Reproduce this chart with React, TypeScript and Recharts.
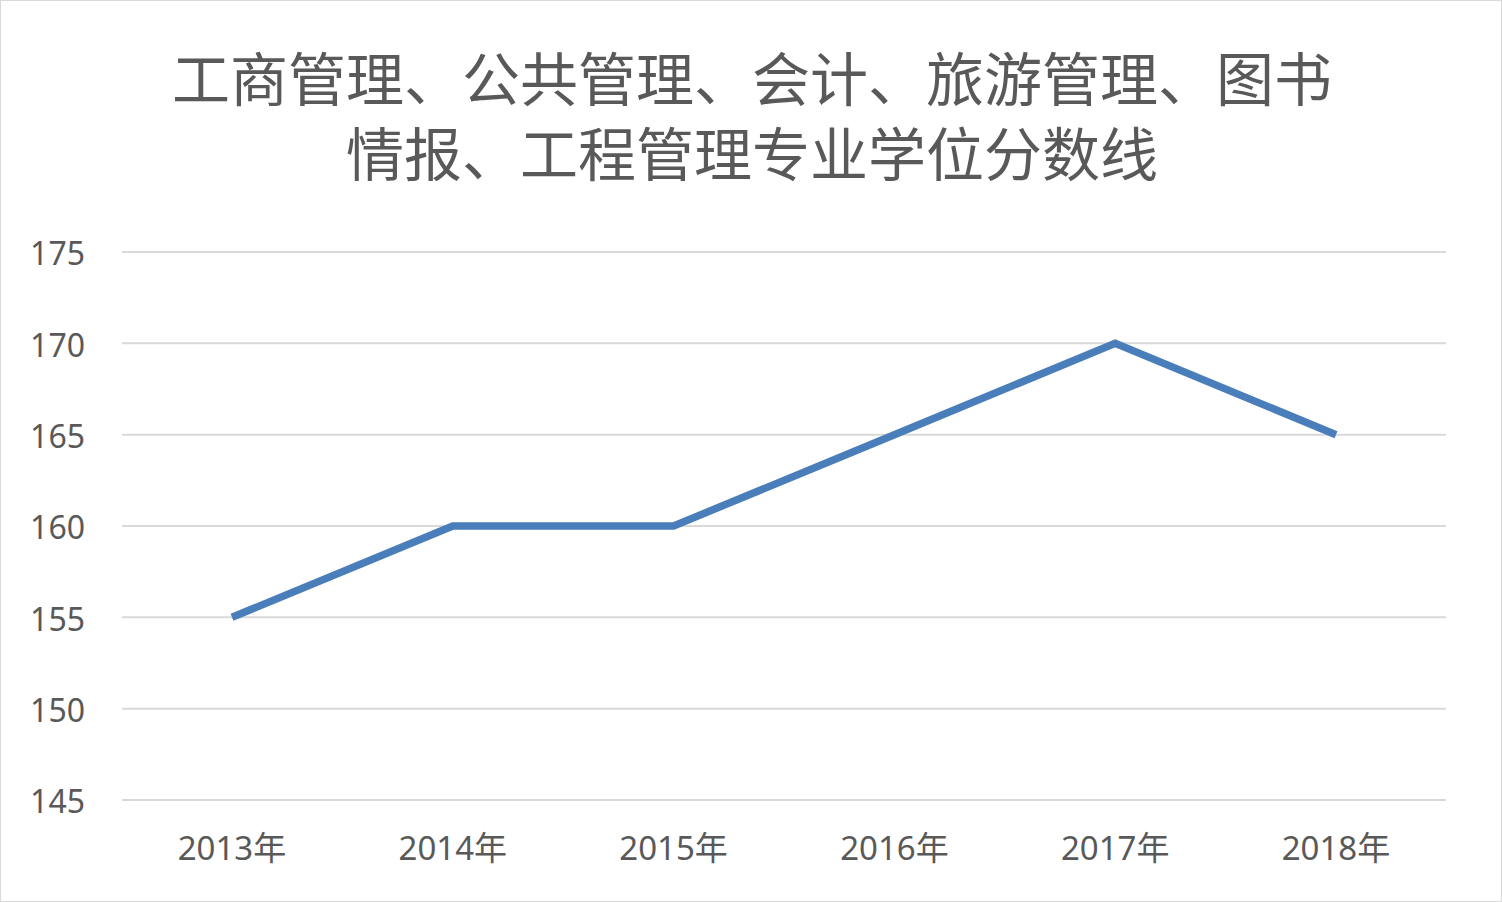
import React from "react";
import { LineChart, Line, CartesianGrid, XAxis, YAxis } from "recharts";

const years = ["2013年", "2014年", "2015年", "2016年", "2017年", "2018年"];
const scores = [155, 160, 160, 165, 170, 165];
const yTicks = [145, 150, 155, 160, 165, 170, 175];

const titleLines = ["工商管理、公共管理、会计、旅游管理、图书", "情报、工程管理专业学位分数线"];

const data = years.map((year, i) => ({ year, score: scores[i] }));

const textColor = "#595959";
const font = '"Noto Sans", "Noto Sans CJK SC", sans-serif';

export default function App() {
  return (
    <div
      style={{
        position: "absolute",
        left: 0,
        top: 0,
        width: 1502,
        height: 902,
        background: "#fff",
        border: "1px solid #d9d9d9",
        boxSizing: "border-box",
        fontFamily: font,
      }}
    >
      {/* title: Lato first so the text box stays compact, CJK glyphs fall back */}
      <div
        style={{
          position: "absolute",
          left: 0,
          top: 40,
          width: 1502,
          textAlign: "center",
          fontFamily: 'Lato, "Noto Sans CJK SC", sans-serif',
          fontSize: 58,
          lineHeight: "75px",
          color: textColor,
        }}
      >
        {titleLines.map((l) => (
          <div key={l}>{l}</div>
        ))}
      </div>
      <div style={{ position: "absolute", left: -1, top: -1 }}>
        <LineChart
          width={1502}
          height={902}
          data={data}
          margin={{ top: 252, right: 56, bottom: 0, left: 0 }}
        >
          <CartesianGrid vertical={false} stroke="#d9d9d9" strokeWidth={2} />
          <XAxis
            dataKey="year"
            axisLine={false}
            tickLine={false}
            tickSize={0}
            tickMargin={37}
            height={102}
            padding={{ left: 110, right: 110 }}
            tick={{ fill: textColor, fontSize: 33, fontFamily: font }}
          />
          <YAxis
            domain={[145, 175]}
            ticks={yTicks}
            axisLine={false}
            tickLine={false}
            tickSize={0}
            tickMargin={37}
            width={122}
            tick={{ fill: textColor, fontSize: 32, fontFamily: font, dy: 2 }}
          />
          <Line
            type="linear"
            dataKey="score"
            stroke="#4a7ebb"
            strokeWidth={7.5}
            dot={false}
            isAnimationActive={false}
          />
        </LineChart>
      </div>
    </div>
  );
}
